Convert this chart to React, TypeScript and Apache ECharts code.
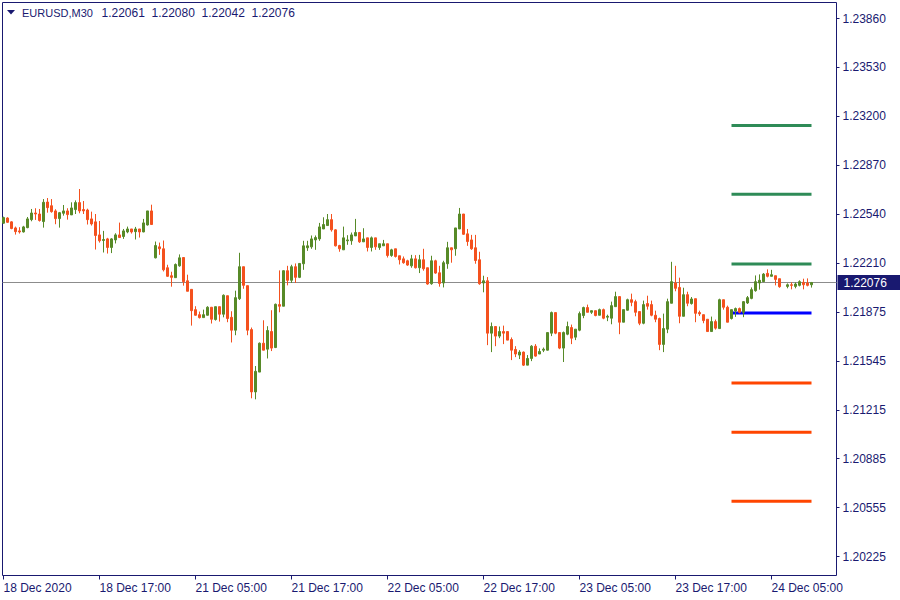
import React, { useEffect, useRef } from "react";
import * as echarts from "echarts";

// ---------- data ----------
const SYMBOL_TITLE = "EURUSD,M30";

const TIME_LABELS = [
  "18 Dec 2020", "18 Dec 17:00", "21 Dec 05:00", "21 Dec 17:00", "22 Dec 05:00",
  "22 Dec 17:00", "23 Dec 05:00", "23 Dec 17:00", "24 Dec 05:00",
];
const TIME_LABEL_BARS = [0, 24, 48, 72, 96, 120, 144, 168, 192];

const PRICE_TICK_LABELS = [
  "1.20225", "1.20555", "1.20885", "1.21215", "1.21545", "1.21875",
  "1.22210", "1.22540", "1.22870", "1.23200", "1.23530", "1.23860",
];

// OHLC of each 30-minute bar (null = no visible bar)
const opens: (number | null)[] = [
  1.22477, 1.22512, 1.22486, 1.22445, 1.22425, 1.22418, 1.22447, 1.22501, 1.22546, 1.22539,
  1.22488, 1.22620, 1.22595, 1.22560, 1.22508, 1.22544, 1.22560, 1.22533, 1.22569, 1.22616,
  1.22569, 1.22566, 1.22506, 1.22486, 1.22398, 1.22360, 1.22371, 1.22313, 1.22364, 1.22398,
  1.22387, 1.22418, 1.22438, 1.22420, 1.22438, 1.22418, 1.22465, 1.22560, 1.22243, 1.22317,
  1.22304, 1.22176, 1.22122, 1.22109, 1.22189, 1.22245, 1.22088, 1.22030, 1.21893, 1.21859,
  1.21839, 1.21855, 1.21909, 1.21826, 1.21913, 1.21862, 1.21987, 1.21841, 1.21754, 1.21967,
  1.22183, 1.22055, 1.21758, 1.21337, 1.21471, 1.21666, 1.21626, 1.21745, 1.21637, 1.21927,
  1.21916, 1.22156, 1.22091, 1.22183, 1.22111, 1.22203, 1.22311, 1.22317, 1.22364, 1.22371,
  1.22438, 1.22461, 1.22501, 1.22432, 1.22326, 1.22297, 1.22358, 1.22358, 1.22391, 1.22414,
  1.22351, 1.22378, 1.22313, 1.22378, 1.22313, 1.22324, 1.22338, 1.22259, 1.22304, 1.22257,
  1.22236, 1.22223, 1.22189, 1.22236, 1.22176, 1.22230, 1.22176, 1.22068, 1.22223, 1.22142,
  1.22073, 1.22203, 1.22311, 1.22304, 1.22438, 1.22539, 1.22405, 1.22364, 1.22311, 1.22230,
  1.22073, 1.22088, 1.21734, 1.21779, 1.21714, 1.21745, 1.21745, 1.21691, 1.21624, 1.21586,
  1.21606, 1.21518, 1.21563, 1.21646, 1.21593, 1.21619, 1.21619, 1.21734, 1.21873, 1.21738,
  1.21633, 1.21727, 1.21772, 1.21707, 1.21754, 1.21853, 1.21907, 1.21875, 1.21886, 1.21855,
  1.21893, 1.21842, 1.21835, 1.21913, 1.21981, 1.21808, 1.21889, 1.21960, 1.21947, 1.21880,
  1.21801, 1.21934, 1.21927, 1.21855, 1.21833, 1.21658, 1.21761, 1.21936, 1.22073, 1.22043,
  1.21848, 1.21994, 1.21934, 1.21967, 1.21873, 1.21859, 1.21828, 1.21745, 1.21812, 1.21765,
  1.21960, 1.21909, 1.21833, 1.21884, 1.21900, 1.21875, 1.21938, 1.21969, 1.22021, 1.22073,
  1.22082, 1.22138, 1.22118, 1.22122, 1.22102, null, 1.22050, 1.22061, 1.22050, 1.22057,
  1.22077, 1.22073, 1.22061,
];
const highs: (number | null)[] = [
  1.22521, 1.22517, 1.22490, 1.22454, 1.22450, 1.22459, 1.22519, 1.22573, 1.22578, 1.22573,
  1.22640, 1.22647, 1.22640, 1.22571, 1.22553, 1.22600, 1.22578, 1.22618, 1.22631, 1.22708,
  1.22627, 1.22575, 1.22555, 1.22539, 1.22492, 1.22425, 1.22378, 1.22376, 1.22409, 1.22481,
  1.22438, 1.22454, 1.22438, 1.22452, 1.22438, 1.22506, 1.22560, 1.22602, 1.22353, 1.22346,
  1.22360, 1.22196, 1.22149, 1.22205, 1.22266, 1.22245, 1.22129, 1.22030, 1.21916, 1.21880,
  1.21893, 1.21916, 1.21911, 1.21913, 1.21913, 1.21996, 1.21987, 1.21882, 1.22021, 1.22277,
  1.22183, 1.22055, 1.21772, 1.21512, 1.21671, 1.21821, 1.21781, 1.21889, 1.21934, 1.22158,
  1.22158, 1.22189, 1.22196, 1.22205, 1.22205, 1.22358, 1.22358, 1.22394, 1.22394, 1.22479,
  1.22517, 1.22539, 1.22539, 1.22436, 1.22331, 1.22454, 1.22396, 1.22414, 1.22506, 1.22418,
  1.22443, 1.22378, 1.22387, 1.22378, 1.22338, 1.22364, 1.22338, 1.22304, 1.22304, 1.22257,
  1.22252, 1.22230, 1.22263, 1.22261, 1.22263, 1.22304, 1.22176, 1.22257, 1.22230, 1.22189,
  1.22223, 1.22351, 1.22311, 1.22445, 1.22580, 1.22539, 1.22438, 1.22398, 1.22398, 1.22284,
  1.22122, 1.22113, 1.21806, 1.21779, 1.21779, 1.21785, 1.21745, 1.21705, 1.21646, 1.21619,
  1.21610, 1.21586, 1.21653, 1.21660, 1.21631, 1.21637, 1.21738, 1.21880, 1.21873, 1.21738,
  1.21745, 1.21812, 1.21792, 1.21761, 1.21880, 1.21913, 1.21927, 1.21886, 1.21886, 1.21900,
  1.21900, 1.21859, 1.21947, 1.22014, 1.21981, 1.21893, 1.21967, 1.22001, 1.21960, 1.21880,
  1.21954, 1.21987, 1.21954, 1.21886, 1.21839, 1.21866, 1.21967, 1.22216, 1.22189, 1.22109,
  1.22041, 1.22014, 1.21978, 1.21967, 1.21886, 1.21859, 1.21828, 1.21846, 1.21826, 1.21967,
  1.21960, 1.21920, 1.21893, 1.21907, 1.21907, 1.21951, 1.21985, 1.22043, 1.22124, 1.22131,
  1.22140, 1.22165, 1.22162, 1.22122, 1.22102, null, 1.22070, 1.22077, 1.22077, 1.22091,
  1.22102, 1.22104, 1.22080,
];
const lows: (number | null)[] = [
  1.22474, 1.22479, 1.22436, 1.22400, 1.22407, 1.22414, 1.22443, 1.22490, 1.22499, 1.22488,
  1.22447, 1.22548, 1.22548, 1.22470, 1.22447, 1.22528, 1.22501, 1.22533, 1.22539, 1.22544,
  1.22539, 1.22468, 1.22461, 1.22299, 1.22346, 1.22279, 1.22272, 1.22275, 1.22340, 1.22380,
  1.22371, 1.22409, 1.22407, 1.22367, 1.22380, 1.22416, 1.22461, 1.22468, 1.22239, 1.22263,
  1.22151, 1.22115, 1.22048, 1.22109, 1.22183, 1.22055, 1.22017, 1.21785, 1.21853, 1.21833,
  1.21839, 1.21853, 1.21799, 1.21819, 1.21812, 1.21841, 1.21808, 1.21671, 1.21720, 1.21958,
  1.22034, 1.21720, 1.21294, 1.21287, 1.21471, 1.21619, 1.21563, 1.21613, 1.21633, 1.21875,
  1.21916, 1.22057, 1.22073, 1.22073, 1.22106, 1.22162, 1.22290, 1.22304, 1.22297, 1.22358,
  1.22438, 1.22461, 1.22420, 1.22320, 1.22284, 1.22297, 1.22331, 1.22331, 1.22391, 1.22344,
  1.22351, 1.22286, 1.22286, 1.22297, 1.22297, 1.22324, 1.22245, 1.22250, 1.22245, 1.22198,
  1.22203, 1.22189, 1.22176, 1.22171, 1.22140, 1.22156, 1.22061, 1.22061, 1.22135, 1.22048,
  1.22043, 1.22169, 1.22210, 1.22257, 1.22438, 1.22398, 1.22324, 1.22297, 1.22203, 1.22061,
  1.22010, 1.21653, 1.21606, 1.21646, 1.21700, 1.21660, 1.21687, 1.21552, 1.21572, 1.21559,
  1.21512, 1.21518, 1.21545, 1.21575, 1.21593, 1.21606, 1.21617, 1.21714, 1.21727, 1.21626,
  1.21539, 1.21720, 1.21660, 1.21687, 1.21747, 1.21835, 1.21875, 1.21864, 1.21848, 1.21855,
  1.21828, 1.21815, 1.21794, 1.21913, 1.21727, 1.21808, 1.21886, 1.21916, 1.21848, 1.21788,
  1.21794, 1.21893, 1.21848, 1.21808, 1.21619, 1.21606, 1.21734, 1.21936, 1.22017, 1.21801,
  1.21848, 1.21916, 1.21927, 1.21808, 1.21850, 1.21801, 1.21745, 1.21745, 1.21758, 1.21765,
  1.21893, 1.21808, 1.21826, 1.21844, 1.21868, 1.21842, 1.21931, 1.21963, 1.22014, 1.22028,
  1.22079, 1.22111, 1.22118, 1.22057, 1.22041, null, 1.22037, 1.22030, 1.22037, 1.22050,
  1.22030, 1.22050, 1.22042,
];
const closes: (number | null)[] = [
  1.22515, 1.22483, 1.22441, 1.22420, 1.22418, 1.22452, 1.22506, 1.22546, 1.22539, 1.22495,
  1.22618, 1.22582, 1.22555, 1.22508, 1.22548, 1.22560, 1.22535, 1.22580, 1.22616, 1.22560,
  1.22560, 1.22501, 1.22472, 1.22394, 1.22358, 1.22367, 1.22313, 1.22371, 1.22398, 1.22380,
  1.22425, 1.22438, 1.22418, 1.22438, 1.22418, 1.22479, 1.22560, 1.22468, 1.22326, 1.22304,
  1.22162, 1.22118, 1.22111, 1.22198, 1.22243, 1.22082, 1.22017, 1.21886, 1.21855, 1.21839,
  1.21859, 1.21909, 1.21828, 1.21913, 1.21862, 1.21990, 1.21833, 1.21754, 1.21974, 1.22183,
  1.22057, 1.21754, 1.21337, 1.21476, 1.21666, 1.21619, 1.21752, 1.21633, 1.21929, 1.21916,
  1.22156, 1.22091, 1.22183, 1.22111, 1.22205, 1.22324, 1.22324, 1.22371, 1.22380, 1.22452,
  1.22468, 1.22501, 1.22432, 1.22324, 1.22304, 1.22378, 1.22364, 1.22398, 1.22414, 1.22351,
  1.22371, 1.22313, 1.22378, 1.22317, 1.22338, 1.22338, 1.22259, 1.22297, 1.22252, 1.22230,
  1.22210, 1.22194, 1.22236, 1.22176, 1.22230, 1.22169, 1.22066, 1.22223, 1.22140, 1.22070,
  1.22210, 1.22311, 1.22297, 1.22445, 1.22539, 1.22402, 1.22353, 1.22304, 1.22225, 1.22068,
  1.22088, 1.21734, 1.21779, 1.21714, 1.21745, 1.21734, 1.21687, 1.21619, 1.21593, 1.21606,
  1.21518, 1.21563, 1.21646, 1.21579, 1.21610, 1.21626, 1.21738, 1.21873, 1.21734, 1.21633,
  1.21738, 1.21779, 1.21700, 1.21761, 1.21866, 1.21907, 1.21875, 1.21886, 1.21853, 1.21893,
  1.21835, 1.21848, 1.21920, 1.21981, 1.21808, 1.21893, 1.21960, 1.21942, 1.21875, 1.21801,
  1.21927, 1.21916, 1.21855, 1.21828, 1.21658, 1.21765, 1.21947, 1.22082, 1.22037, 1.21848,
  1.21994, 1.21936, 1.21965, 1.21868, 1.21864, 1.21819, 1.21745, 1.21812, 1.21768, 1.21960,
  1.21909, 1.21808, 1.21893, 1.21900, 1.21875, 1.21947, 1.21974, 1.22028, 1.22082, 1.22091,
  1.22133, 1.22118, 1.22129, 1.22097, 1.22048, null, 1.22061, 1.22057, 1.22066, 1.22082,
  1.22061, 1.22057, 1.22076,
];

// pivot levels drawn over the last bars (R3, R2, R1, PP, S1, S2, S3)
const pivotLevels = [1.23137, 1.22672, 1.22201, 1.21871, 1.21398, 1.21064, 1.20599];
const PIVOT_FROM_BAR = 182;
const PIVOT_TO_BAR = 202;

// ---------- styles ----------
const NAVY = "#191970";
const BULL = "#578A28";
const BEAR = "#F4511E";
const PIVOT_COLORS = ["#2E8B57", "#2E8B57", "#2E8B57", "#0000FF", "#FF4500", "#FF4500", "#FF4500"];
const FONT = 'Tahoma, "Liberation Sans", Arial, sans-serif';

export default function App() {
  const ref = useRef<HTMLDivElement>(null);

  useEffect(() => {
    if (!ref.current) return;
    const chart = echarts.init(ref.current, null, { renderer: "svg" });

    const candleData: number[][] = [];
    for (let i = 0; i < opens.length; i++) {
      if (opens[i] == null) continue;
      candleData.push([i, opens[i] as number, closes[i] as number, lows[i] as number, highs[i] as number]);
    }
    const last = opens.length - 1;
    const lastClose = closes[last] as number;

    const yFirst = parseFloat(PRICE_TICK_LABELS[0]);
    const yLast = parseFloat(PRICE_TICK_LABELS[PRICE_TICK_LABELS.length - 1]);
    const yStep = (yLast - yFirst) / (PRICE_TICK_LABELS.length - 1);
    const yTickPos = PRICE_TICK_LABELS.map((_, k) => yFirst + k * yStep);
    // plot extends 19px below the lowest tick and 16px above the highest one (538px across ticks)
    const pxPerUnit = 538 / (yLast - yFirst);
    const yMin = yFirst - 19 / pxPerUnit;
    const yMax = yLast + 16 / pxPerUnit;

    const pivotSeries = pivotLevels.map((lvl, k) => ({
      type: "line",
      data: [[PIVOT_FROM_BAR, lvl], [PIVOT_TO_BAR, lvl]],
      symbol: "none",
      silent: true,
      z: 2,
      lineStyle: { color: PIVOT_COLORS[k], width: 3, cap: "butt" },
    }));

    const headerValues = [opens[last], highs[last], lows[last], closes[last]].map((v) => (v as number).toFixed(5));

    chart.setOption({
      animation: false,
      backgroundColor: "#ffffff",
      textStyle: { fontFamily: FONT },
      grid: {
        left: 2.5,
        top: 2.5,
        width: 834,
        height: 573,
        show: true,
        borderColor: NAVY,
        borderWidth: 1,
        backgroundColor: "#ffffff",
      },
      xAxis: {
        type: "value",
        min: -0.25,
        max: 208.25,
        axisLine: { show: false, onZero: false },
        splitLine: { show: false },
        axisTick: {
          show: true,
          customValues: TIME_LABEL_BARS,
          length: 4,
          lineStyle: { color: NAVY, width: 1 },
        },
        axisLabel: {
          show: true,
          customValues: TIME_LABEL_BARS,
          formatter: (v: number) => {
            const k = TIME_LABEL_BARS.indexOf(Math.round(v));
            return k >= 0 ? TIME_LABELS[k] : "";
          },
          align: "left",
          margin: 6,
          color: NAVY,
          fontSize: 12,
          fontFamily: FONT,
        },
      },
      yAxis: {
        type: "value",
        position: "right",
        min: yMin,
        max: yMax,
        scale: true,
        axisLine: { show: false, onZero: false },
        splitLine: { show: false },
        axisTick: {
          show: true,
          customValues: yTickPos,
          length: 3,
          lineStyle: { color: NAVY, width: 1 },
        },
        axisLabel: {
          show: true,
          customValues: yTickPos,
          formatter: (v: number) => {
            const k = Math.round((v - yFirst) / yStep);
            return PRICE_TICK_LABELS[k] ?? "";
          },
          margin: 6,
          color: NAVY,
          fontSize: 12,
          fontFamily: FONT,
        },
      },
      series: [
        ...pivotSeries,
        {
          type: "candlestick",
          data: candleData,
          z: 3,
          barWidth: 2,
          itemStyle: {
            color: BULL,
            color0: BEAR,
            borderColor: BULL,
            borderColor0: BEAR,
            borderWidth: 1,
          },
          markLine: {
            silent: true,
            z: 1,
            precision: 5,
            symbol: ["none", "none"],
            lineStyle: { color: "#8C8C8C", width: 1, type: "solid" },
            label: {
              show: true,
              position: "end",
              distance: 1,
              formatter: lastClose.toFixed(5),
              backgroundColor: NAVY,
              color: "#ffffff",
              fontSize: 12,
              fontFamily: FONT,
              padding: [2, 20, 1, 6],
            },
            data: [{ yAxis: lastClose }],
          },
        },
      ],
      graphic: [
        {
          type: "polygon",
          shape: { points: [[7, 10], [15, 10], [11, 14.5]] },
          style: { fill: NAVY },
        },
        {
          type: "text",
          x: 22,
          y: 12.5,
          style: { text: SYMBOL_TITLE, fill: NAVY, font: `11px ${FONT}`, verticalAlign: "middle" },
        },
        ...headerValues.map((t, k) => ({
          type: "text",
          x: 101.5 + k * 50,
          y: 12.5,
          style: { text: t, fill: NAVY, font: `12px ${FONT}`, verticalAlign: "middle" },
        })),
      ],
    });

    return () => chart.dispose();
  }, []);

  return (
    <div
      ref={ref}
      style={{ position: "fixed", left: 0, top: 0, width: 900, height: 600, background: "#ffffff" }}
    />
  );
}
